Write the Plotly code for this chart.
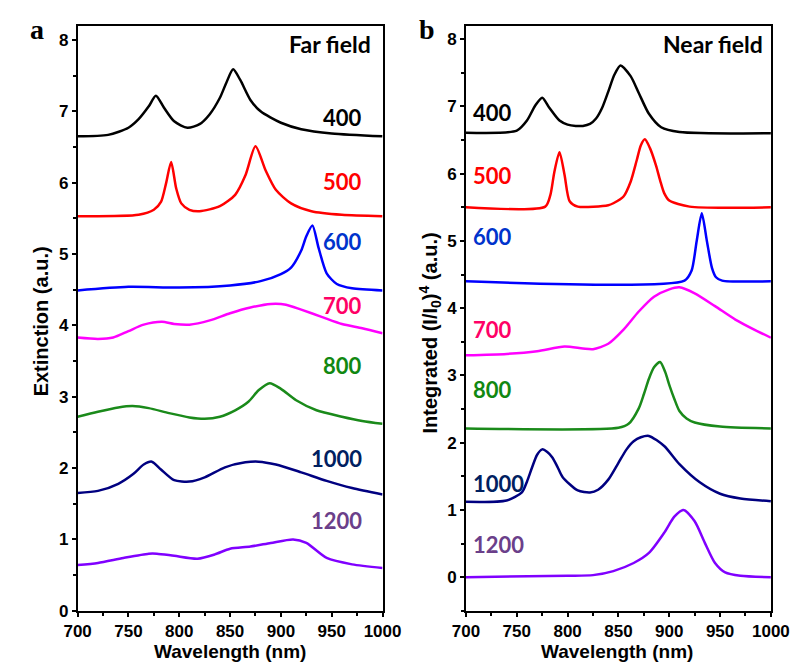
import plotly.graph_objects as go

# ---- data ----
# panel a: far-field extinction
FAR_400_X = [700, 730, 750, 760, 770, 777, 785, 795, 808, 820, 830, 840, 846, 853, 860, 870, 880, 900, 920, 950, 1000]
FAR_400_Y = [6.65, 6.67, 6.77, 6.89, 7.07, 7.22, 7.05, 6.86, 6.77, 6.82, 6.96, 7.19, 7.39, 7.59, 7.44, 7.16, 7.00, 6.84, 6.75, 6.69, 6.65]
FAR_500_X = [700, 760, 775, 782, 787, 792, 797, 802, 810, 820, 840, 855, 865, 875, 885, 895, 910, 930, 960, 1000]
FAR_500_Y = [5.53, 5.55, 5.62, 5.73, 5.99, 6.29, 5.92, 5.71, 5.62, 5.60, 5.67, 5.83, 6.10, 6.51, 6.17, 5.90, 5.71, 5.60, 5.55, 5.53]
FAR_600_X = [700, 750, 800, 850, 880, 900, 910, 920, 925, 931, 937, 945, 955, 970, 1000]
FAR_600_Y = [4.49, 4.54, 4.53, 4.56, 4.62, 4.72, 4.81, 5.05, 5.25, 5.40, 5.09, 4.73, 4.58, 4.52, 4.49]
FAR_700_X = [700, 720, 735, 750, 765, 783, 795, 810, 830, 850, 870, 890, 905, 920, 940, 960, 980, 1000]
FAR_700_Y = [3.83, 3.81, 3.83, 3.92, 4.01, 4.05, 4.02, 4.01, 4.07, 4.17, 4.25, 4.30, 4.29, 4.22, 4.12, 4.02, 3.96, 3.89]
FAR_800_X = [700, 720, 740, 754, 770, 790, 810, 825, 840, 855, 868, 878, 889, 900, 915, 935, 960, 980, 1000]
FAR_800_Y = [2.72, 2.79, 2.85, 2.87, 2.84, 2.77, 2.71, 2.69, 2.72, 2.81, 2.93, 3.09, 3.19, 3.11, 2.95, 2.81, 2.72, 2.66, 2.62]
FAR_1000_X = [700, 720, 740, 755, 765, 773, 782, 795, 810, 825, 845, 865, 878, 895, 920, 945, 970, 1000]
FAR_1000_Y = [1.65, 1.68, 1.78, 1.92, 2.05, 2.09, 1.98, 1.83, 1.81, 1.87, 2.01, 2.08, 2.09, 2.05, 1.94, 1.82, 1.72, 1.63]
FAR_1200_X = [700, 720, 745, 770, 778, 795, 818, 835, 850, 870, 890, 912, 925, 945, 970, 1000]
FAR_1200_Y = [0.64, 0.67, 0.74, 0.80, 0.80, 0.77, 0.73, 0.79, 0.87, 0.90, 0.95, 1.00, 0.95, 0.74, 0.65, 0.60]

# panel b: integrated near-field enhancement
NEAR_400_X = [700, 750, 760, 768, 775, 782, 792, 800, 808, 815, 822, 828, 834, 840, 846, 852, 862, 870, 880, 892, 910, 1000]
NEAR_400_Y = [6.61, 6.64, 6.79, 7.01, 7.13, 6.98, 6.79, 6.73, 6.71, 6.71, 6.74, 6.82, 6.98, 7.22, 7.47, 7.61, 7.45, 7.20, 6.89, 6.69, 6.62, 6.60]
NEAR_500_X = [700, 778, 783, 787, 792, 797, 802, 810, 840, 845, 855, 862, 868, 872, 876, 881, 887, 891, 895, 900, 920, 1000]
NEAR_500_Y = [5.50, 5.51, 5.68, 6.03, 6.32, 5.98, 5.59, 5.51, 5.53, 5.56, 5.66, 5.88, 6.20, 6.42, 6.51, 6.38, 6.12, 5.90, 5.71, 5.60, 5.51, 5.50]
NEAR_600_X = [700, 915, 922, 927, 932, 937, 942, 946, 952, 1000]
NEAR_600_Y = [4.40, 4.41, 4.56, 5.00, 5.41, 5.00, 4.60, 4.46, 4.41, 4.40]
NEAR_700_X = [700, 740, 770, 797, 815, 825, 840, 855, 870, 885, 900, 910, 925, 945, 965, 985, 1000]
NEAR_700_Y = [3.30, 3.32, 3.36, 3.43, 3.40, 3.39, 3.47, 3.68, 3.95, 4.17, 4.28, 4.31, 4.22, 4.03, 3.83, 3.67, 3.56]
NEAR_800_X = [700, 850, 860, 870, 875, 880, 885, 891, 896, 900, 905, 910, 917, 925, 950, 1000]
NEAR_800_Y = [2.21, 2.22, 2.28, 2.51, 2.72, 2.95, 3.12, 3.20, 3.05, 2.86, 2.65, 2.47, 2.36, 2.30, 2.24, 2.21]
NEAR_1000_X = [700, 740, 755, 760, 765, 770, 775, 780, 785, 790, 795, 810, 822, 830, 840, 850, 858, 865, 872, 880, 895, 910, 930, 950, 970, 1000]
NEAR_1000_Y = [1.12, 1.14, 1.26, 1.42, 1.63, 1.82, 1.90, 1.86, 1.78, 1.64, 1.49, 1.29, 1.26, 1.30, 1.45, 1.70, 1.90, 2.02, 2.08, 2.10, 1.95, 1.68, 1.41, 1.24, 1.17, 1.13]
NEAR_1200_X = [700, 800, 825, 845, 865, 880, 895, 905, 914, 925, 935, 945, 955, 970, 1000]
NEAR_1200_Y = [0.00, 0.02, 0.03, 0.09, 0.21, 0.36, 0.66, 0.90, 1.00, 0.83, 0.51, 0.21, 0.07, 0.02, 0.00]

LABELS = ["400", "500", "600", "700", "800", "1000", "1200"]
FAR_LABEL_Y = [6.91, 6.01, 5.17, 4.28, 3.44, 2.14, 1.27]
NEAR_LABEL_Y = [6.91, 5.98, 5.07, 3.68, 2.79, 1.39, 0.48]

LINE_COLORS = ["#000000", "#ff0000", "#0000ff", "#ff00ff", "#1a8a1a", "#000080", "#8000ff"]
LABEL_COLORS = ["#000000", "#ff0000", "#0033cc", "#ff0066", "#118811", "#002060", "#6b3f8a"]

SANS = "Liberation Sans, Arial, sans-serif"
LBL = "Lato, Open Sans, sans-serif"
SERIF = "Liberation Serif, Times New Roman, serif"

far = [(FAR_400_X, FAR_400_Y), (FAR_500_X, FAR_500_Y), (FAR_600_X, FAR_600_Y),
       (FAR_700_X, FAR_700_Y), (FAR_800_X, FAR_800_Y), (FAR_1000_X, FAR_1000_Y),
       (FAR_1200_X, FAR_1200_Y)]
near = [(NEAR_400_X, NEAR_400_Y), (NEAR_500_X, NEAR_500_Y), (NEAR_600_X, NEAR_600_Y),
        (NEAR_700_X, NEAR_700_Y), (NEAR_800_X, NEAR_800_Y), (NEAR_1000_X, NEAR_1000_Y),
        (NEAR_1200_X, NEAR_1200_Y)]

fig = go.Figure()
for (xs, ys), c in zip(far, LINE_COLORS):
    fig.add_trace(go.Scatter(x=xs, y=ys, mode="lines", xaxis="x", yaxis="y",
                             line={"color": c, "width": 2.5, "shape": "spline", "smoothing": 0.7},
                             showlegend=False))
for (xs, ys), c in zip(near, LINE_COLORS):
    fig.add_trace(go.Scatter(x=xs, y=ys, mode="lines", xaxis="x2", yaxis="y2",
                             line={"color": c, "width": 2.5, "shape": "spline", "smoothing": 0.7},
                             showlegend=False))

for lab, y, c in zip(LABELS, FAR_LABEL_Y, LABEL_COLORS):
    fig.add_annotation(x=982, y=y, xref="x", yref="y", text=lab, showarrow=False,
                       xanchor="right", yanchor="middle",
                       font={"family": LBL, "size": 22, "color": c, "weight": "bold"})
for lab, y, c in zip(LABELS, NEAR_LABEL_Y, LABEL_COLORS):
    fig.add_annotation(x=705, y=y, xref="x2", yref="y2", text=lab, showarrow=False,
                       xanchor="left", yanchor="middle",
                       font={"family": LBL, "size": 22, "color": c, "weight": "bold"})

fig.add_annotation(x=991, y=7.94, xref="x", yref="y", text="Far field", showarrow=False,
                   xanchor="right", yanchor="middle",
                   font={"family": LBL, "size": 23, "color": "black", "weight": "bold"})
fig.add_annotation(x=994, y=7.93, xref="x2", yref="y2", text="Near field", showarrow=False,
                   xanchor="right", yanchor="middle",
                   font={"family": LBL, "size": 23, "color": "black", "weight": "bold"})

# panel letters
for txt, px in (("a", 16), ("b", 422)):
    fig.add_annotation(x=px / 803, y=1 - 22 / 662, xref="paper", yref="paper", text=txt,
                       showarrow=False, xanchor="center", yanchor="middle",
                       font={"family": SERIF, "size": 28, "color": "black", "weight": "bold"})

# axis titles
fig.add_annotation(x=20 / 803, y=1 - 318 / 662, xref="paper", yref="paper",
                   text="Extinction (a.u.)", textangle=-90, showarrow=False,
                   xanchor="center", yanchor="middle",
                   font={"family": SANS, "size": 20, "color": "black", "weight": "bold"})
fig.add_annotation(x=425 / 803, y=1 - 330 / 662, xref="paper", yref="paper",
                   text="Integrated (I/I<sub>0</sub>)<sup>4</sup> (a.u.)", textangle=-90,
                   showarrow=False, xanchor="center", yanchor="middle",
                   font={"family": SANS, "size": 20, "color": "black", "weight": "bold"})
for cx in (217, 621):
    fig.add_annotation(x=cx / 803, y=1 - 653 / 662, xref="paper", yref="paper",
                       text="Wavelength (nm)", showarrow=False,
                       xanchor="center", yanchor="middle",
                       font={"family": SANS, "size": 19, "color": "black", "weight": "bold"})

ax_common = dict(showgrid=False, zeroline=False, showline=True, linecolor="black",
                 linewidth=1.5, mirror=True, ticks="outside", ticklen=4, tickwidth=1.5,
                 tickcolor="black",
                 tickfont={"family": SANS, "size": 17, "color": "black", "weight": "bold"})
xa = dict(ax_common, range=[700, 1000], dtick=50,
          minor={"dtick": 25, "ticks": "outside", "ticklen": 3, "tickcolor": "black"})
ya = dict(ax_common, dtick=1,
          minor={"dtick": 0.5, "ticks": "outside", "ticklen": 3, "tickcolor": "black"})

y0, y1 = (662 - 612) / 662, (662 - 18) / 662
fig.update_layout(
    width=803, height=662,
    margin={"l": 0, "r": 0, "t": 0, "b": 0},
    paper_bgcolor="white", plot_bgcolor="white",
    xaxis=dict(xa, domain=[58 / 803, 376 / 803], anchor="y"),
    yaxis=dict(ya, domain=[y0, y1], range=[0, 8.2], anchor="x"),
    xaxis2=dict(xa, domain=[463 / 803, 781 / 803], anchor="y2"),
    yaxis2=dict(ya, domain=[y0, y1], range=[-0.5, 8.2], anchor="x2",
                tickvals=[0, 1, 2, 3, 4, 5, 6, 7, 8]),
)

fig.write_html("out.html")
